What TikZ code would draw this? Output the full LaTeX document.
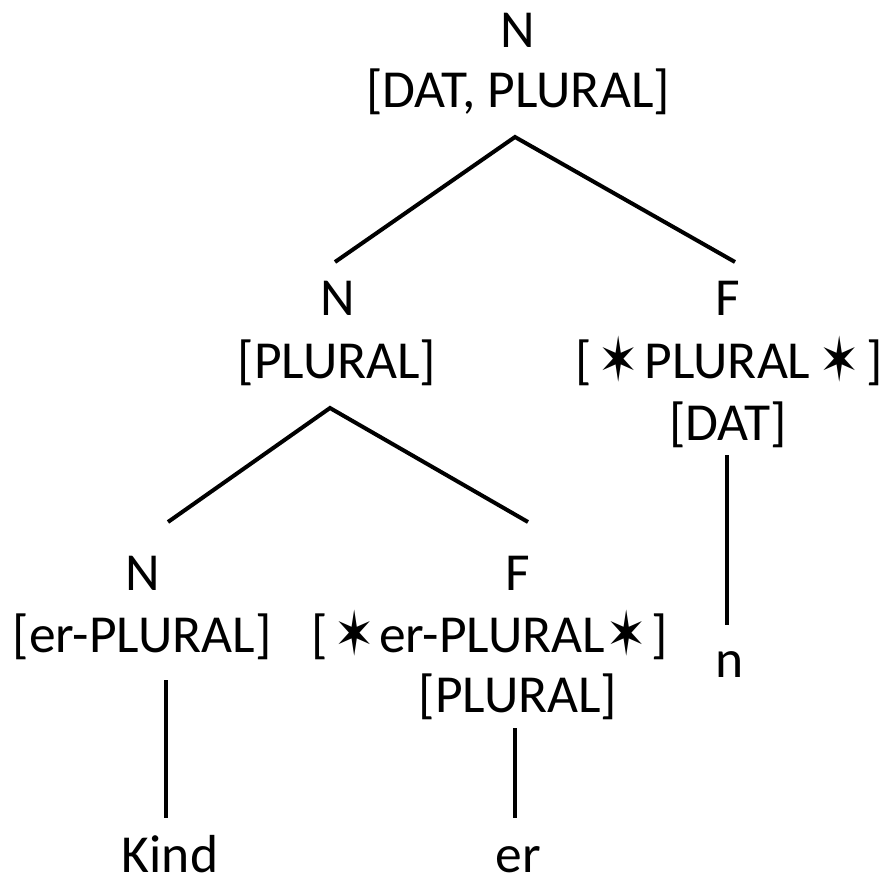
\documentclass[tikz,border=0pt]{standalone}
\usepackage{graphicx}
\usepackage{fontspec}
\setmainfont{Carlito}
\newfontfamily\symfont{DejaVu Sans}
\newcommand{\st}{\makebox[35pt]{\symfont\raisebox{-3pt}{\scalebox{0.9}[1.15]{\char"2736}}}}
\begin{document}
\begin{tikzpicture}[x=1pt,y=-1pt,
  lbl/.style={anchor=base,inner sep=0pt,font=\fontsize{53.5}{60}\selectfont},
  edge/.style={line width=4pt}]
\useasboundingbox (0,0) rectangle (883,879);
% root
\node[lbl] (r1) at (518,47) {N};
\node[lbl] (r2) at (518,107) {[DAT, PLURAL]};
% N [PLURAL]
\node[lbl] (a1) at (338,315) {N};
\node[lbl] (a2) at (337,378) {[PLURAL]};
% F [*PLURAL*] [DAT]
\node[lbl] (b1) at (728,315) {F};
\node[lbl] (b2) at (729,378) {[\hspace{10pt}\st\hspace{8pt}PLURAL\hspace{12pt}\st\hspace{9pt}]};
\node[lbl] (b3) at (728,440) {[DAT]};
% N [er-PLURAL]
\node[lbl] (c1) at (143,590) {N};
\node[lbl] (c2) at (142,652) {[er-PLURAL]};
% F [*er-PLURAL*] [PLURAL]
\node[lbl] (d1) at (518,590) {F};
\node[lbl] (d2) at (490,652) {[\hspace{9pt}\st\hspace{7pt}er-PLURAL\hspace{4pt}\st\hspace{8pt}]};
\node[lbl] (d3) at (518,712) {[PLURAL]};
% leaves
\node[lbl] (n) at (730,677) {n};
\node[lbl] (kind) at (170,872) {Kind};
\node[lbl] (er) at (518,872) {er};
% connector end points
\coordinate (r0) at (515,137);
\coordinate (aT) at (335,262);
\coordinate (bT) at (735,262);
\coordinate (a0) at (330,408);
\coordinate (cT) at (168,522);
\coordinate (dT) at (528,522);
\coordinate (b0) at (727,455);
\coordinate (nT) at (727,625);
\coordinate (c0) at (166,680);
\coordinate (kT) at (166,818);
\coordinate (d0) at (515,728);
\coordinate (eT) at (515,818);
\draw[edge] (aT) -- (r0) -- (bT);
\draw[edge] (cT) -- (a0) -- (dT);
\draw[edge] (b0) -- (nT);
\draw[edge] (c0) -- (kT);
\draw[edge] (d0) -- (eT);
\end{tikzpicture}
\end{document}
